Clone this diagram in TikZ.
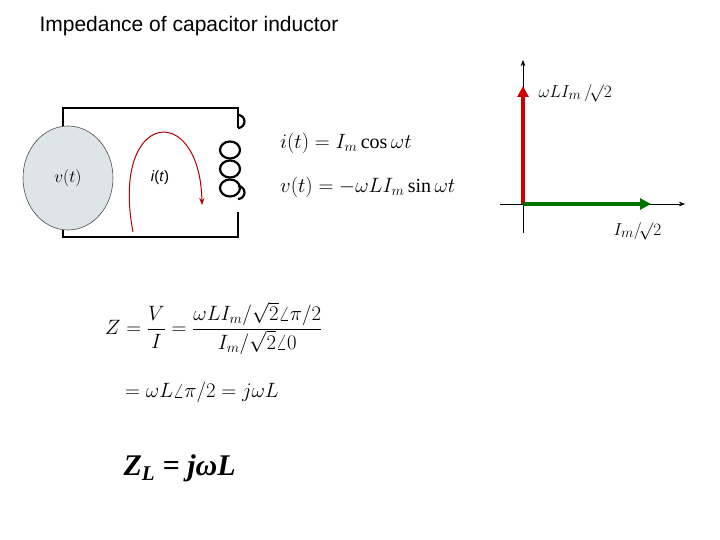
\documentclass[tikz,border=0pt]{standalone}
\usepackage{fontspec}
\setmainfont{Liberation Serif}
\newfontfamily\arialf{Liberation Sans}
\usetikzlibrary{arrows.meta,shapes.geometric}
\begin{document}
\begin{tikzpicture}[x=1pt,y=-1pt,
  wire/.style={line width=2.2pt},
  eq/.style={anchor=west,inner sep=0pt,font=\fontsize{20}{22}\selectfont}]
\useasboundingbox (0,0) rectangle (720,540);
\node[anchor=west,font=\arialf\fontsize{21}{24}\selectfont] (title) at (36,26) {Impedance of capacitor inductor};
% circuit
\coordinate (tl) at (63,108); \coordinate (tr) at (238,108);
\coordinate (bl) at (63,237); \coordinate (br) at (238,237);
\draw[wire] (63,140) -- (tl) -- (tr) -- (238,128);
\draw[wire] (238,212) -- (br) -- (bl) -- (63,215);
\draw[wire] (238,128) arc (90:-90:6.5) ;
\foreach \y in {150,169,188} \draw[wire] (230,\y) ellipse (10 and 8.5);
\draw[wire] (238,199) arc (90:-90:6.5);
\node[draw=black!70,fill=cyan!20!gray!25,ellipse,minimum width=90,minimum height=104,line width=0.6pt] (src) at (68,178) {};
\node[font=\fontsize{17}{19}\selectfont] at (src) {$v(t)$};
\node[font=\arialf\fontsize{15}{17}\selectfont] (it) at (160,178) {\textit{i}(\textit{t})};
\draw[red!70!black,line width=1pt,-{Stealth[length=7pt]}] (133,232) .. controls (110,110) and (200,100) .. (202,205);
% equations
\node[eq] (e1) at (280,143) {$i(t)=I_m\cos\omega t$};
\node[eq] (e2) at (280,187) {$v(t)=-\omega L I_m\sin\omega t$};
% phasor
\draw[-{Stealth[length=6pt]}] (523,233) -- (523,60);
\draw[-{Stealth[length=6pt]}] (500,204) -- (685,204);
\draw[red!80!black,line width=4pt,-{Triangle[length=11pt,width=11pt]}] (523,204) -- (523,86);
\draw[green!45!black,line width=4pt,-{Triangle[length=11pt,width=11pt]}] (523,204) -- (651,204);
\node[anchor=west,font=\fontsize{19}{21}\selectfont] (lv) at (535,93) {$\omega LI_m\,/\!\surd2$};
\node[anchor=west,font=\fontsize{19}{21}\selectfont] (li) at (610,231) {$I_m/\!\surd2$};
% Z
\node[eq] (z1) at (105,328) {$\displaystyle Z=\frac{V}{I}=\frac{\omega LI_m/\sqrt{2}\angle\pi/2}{I_m/\sqrt{2}\angle 0}$};
\node[eq] (z2) at (125,392) {$=\omega L\angle\pi/2=j\omega L$};
\node[anchor=west,font=\bfseries\itshape\fontsize{30}{32}\selectfont] (zl) at (120,468) {Z\textsubscript{L} = jωL};
\end{tikzpicture}
\end{document}
